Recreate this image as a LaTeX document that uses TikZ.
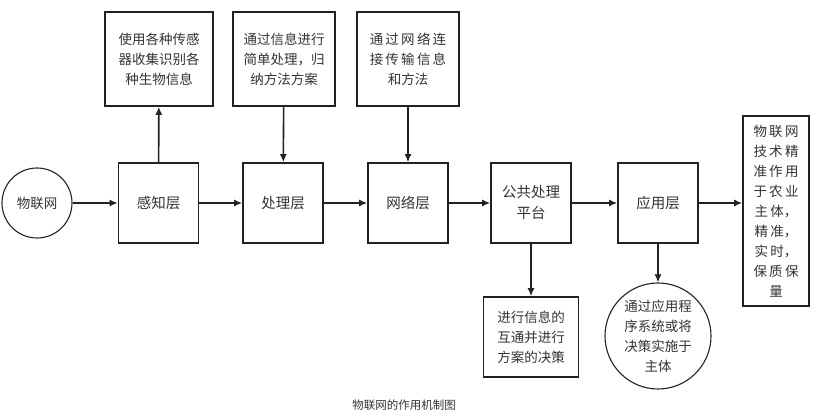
\documentclass[tikz,border=0pt]{standalone}
\usepackage{fontspec}
\setmainfont{Noto Sans CJK SC}
\usetikzlibrary{arrows.meta}
\definecolor{lineGray}{HTML}{222222}
\definecolor{textGray}{HTML}{333333}

\begin{document}
\begin{tikzpicture}[x=1pt, y=-1pt, font=\fontsize{13.5}{20}\selectfont, text=textGray,
    layerStyle/.style={rectangle, draw=lineGray, line width=1.6pt, minimum width=80pt, minimum height=80pt, align=center, font=\fontsize{14.5}{21}\selectfont},
    noteStyle/.style={rectangle, draw=lineGray, line width=1.6pt, align=center, inner sep=0pt},
    roundStyle/.style={circle, draw=lineGray, line width=1.1pt, align=center, inner sep=0pt},
    arrowStyle/.style={-{Latex[length=8pt, width=7pt]}, draw=lineGray, line width=1.6pt}]
    \useasboundingbox (0,0) rectangle (817,419);

    \node[roundStyle, minimum size=70pt] (iot) at (37, 203) {物联网};
    \node[layerStyle] (layer_0) at (158.5, 203) {感知层};
    \node[layerStyle] (layer_1) at (283, 203) {处理层};
    \node[layerStyle] (layer_2) at (408, 203) {网络层};
    \node[layerStyle] (layer_3) at (531, 203) {公共处理\\平台};
    \node[layerStyle] (layer_4) at (658, 203) {应用层};

    \node[noteStyle, minimum width=108pt, minimum height=94pt] (note_0) at (159, 59) {使用各种传感\\器收集识别各\\种生物信息};
    \node[noteStyle, minimum width=102pt, minimum height=94pt] (note_1) at (284, 59) {通过信息进行\\简单处理，归\\纳方法方案};
    \node[noteStyle, minimum width=102pt, minimum height=94pt] (note_2) at (408, 59) {通\,过\,网\,络\,连\\接\,传\,输\,信\,息\\和方法};
    \node[noteStyle, minimum width=95pt, minimum height=80pt] (note_3) at (531, 337) {进行信息的\\互通并进行\\方案的决策};
    \node[roundStyle, minimum size=106pt] (note_4) at (658, 336) {通过应用程\\序系统或将\\决策实施于\\主体};
    \node[noteStyle, minimum width=66pt, minimum height=190pt] (result) at (776, 211) {物\,联\,网\\技\,术\,精\\准\,作\,用\\于\,农\,业\\主\,体，\\精\,准，\\实\,时，\\保\,质\,保\\量};

    \node[font=\fontsize{11.5}{13}\selectfont] (caption) at (404, 405) {物联网的作用机制图};

    \draw[arrowStyle] (iot) -- (layer_0);
    \draw[arrowStyle] (layer_0) -- (layer_1);
    \draw[arrowStyle] (layer_1) -- (layer_2);
    \draw[arrowStyle] (layer_2) -- (layer_3);
    \draw[arrowStyle] (layer_3) -- (layer_4);
    \draw[arrowStyle] (layer_4.east) -- (layer_4.east -| result.west);

    \draw[arrowStyle] (layer_0) -- (note_0);
    \draw[arrowStyle] (note_1) -- (layer_1);
    \draw[arrowStyle] (note_2) -- (layer_2);
    \draw[arrowStyle] (layer_3) -- (note_3);
    \draw[arrowStyle] (layer_4) -- (note_4);
\end{tikzpicture}
\end{document}
